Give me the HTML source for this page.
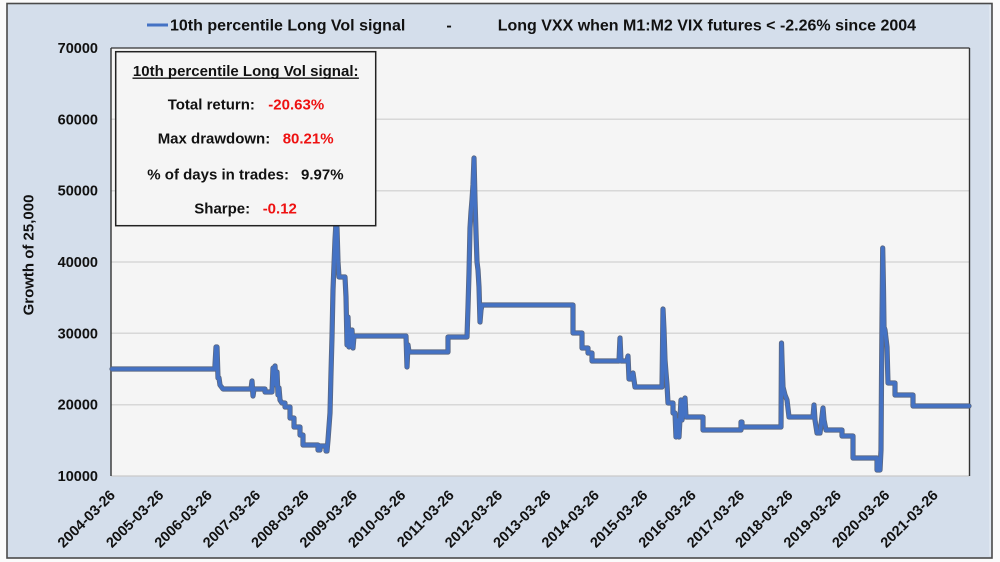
<!DOCTYPE html>
<html><head><meta charset="utf-8"><style>
html,body{margin:0;padding:0;background:#fbfbfb;}
svg{display:block;font-family:"Liberation Sans",Arial,sans-serif;font-weight:bold;}
</style></head><body>
<svg width="1000" height="562" viewBox="0 0 1000 562" xmlns="http://www.w3.org/2000/svg">
<defs>
<path id="s" d="M112,369 H215 V365 L216,347 L217,347 L218,378 L219,378 L220,385 L223,389 H251 L252,381 L253,396 L254,389 H265 V392 H272 L273,368 L274,375 L275,366 L276,385 L277,372 L278,395 L279,388 L280,400 L282,403 H285 V407 H290 V418 H294 V427 H300 V435 H303 V445 H318 V450 H320 V446 H326 V451 H327 L328,440 L330,413 L331,373 L332,337 L333,290 L335,240 L336,222 L337,228 L338,262 L339,277 H345 L346,297 L347,345 L348,317 L349,347 L350,330 L351,345 L352,330 L353,348 L354,336 H406 L407,367 L408,345 L409,352 H448 V337 H467 L468,307 L469,273 L470,228 L471,212 L472,200 L473,185 L474,158 L475,200 L476,233 L477,262 L478,270 L479,287 L480,322 L481,310 L482,305 H573 V333 H582 V348 H588 V353 H592 V361 H619 L620,338 L621,361 H627 L628,356 L629,379 H631 L633,373 L635,387 H662 L663,309 L664,330 L665,360 L666,373 L667,385 L668,403 H673 V413 H675 L676,437 L678,420 L679,437 L681,400 L682,420 L683,405 L685,398 L686,417 H703 V430 H741 V422 H742 V427 H781 L781.5,343 L782,360 L783,387 L785,395 L787,400 L789,417 H813 L814,405 L815,420 L817,433 H820 L821,425 L823,408 L824,420 L826,430 H842 V436 H853 V458 H877 V470 H880 L881,450 L881.5,380 L882,320 L882.7,248 L883.5,290 L884,327 L885,330 L887,347 L888,383 H895 V395 H913 V406 H969"/>
</defs>
<rect x="0" y="0" width="1000" height="562" fill="#fbfbfb"/>
<rect x="7" y="3.5" width="985" height="554.5" fill="#d4deeb" stroke="#4a4a4a" stroke-width="1.6"/>
<line x1="990" y1="5" x2="990" y2="556" stroke="#e8edf4" stroke-width="1"/>
<!-- legend/title -->
<line x1="147" y1="25" x2="168" y2="25" stroke="#4472c4" stroke-width="3"/>
<text x="170" y="30.7" font-size="16" fill="#111">10th percentile Long Vol signal</text>
<text x="449" y="30.7" font-size="16" fill="#111" text-anchor="middle">-</text>
<text x="497.7" y="30.7" font-size="16" fill="#111">Long VXX when M1:M2 VIX futures &lt; -2.26% since 2004</text>
<!-- plot area -->
<rect x="111" y="48" width="858.5" height="428" fill="#f5f5f5"/>
<g stroke="#d8d8d8" stroke-width="1.5">
<line x1="111" y1="119.3" x2="969.5" y2="119.3"/>
<line x1="111" y1="190.7" x2="969.5" y2="190.7"/>
<line x1="111" y1="262" x2="969.5" y2="262"/>
<line x1="111" y1="333.3" x2="969.5" y2="333.3"/>
<line x1="111" y1="404.7" x2="969.5" y2="404.7"/>
</g>
<line x1="111" y1="476" x2="969.5" y2="476" stroke="#c9c9c9" stroke-width="1.2"/>
<line x1="111" y1="48" x2="969.5" y2="48" stroke="#333" stroke-width="1.2"/>
<line x1="969.5" y1="48" x2="969.5" y2="476" stroke="#333" stroke-width="1.4"/>
<line x1="111" y1="48" x2="111" y2="476" stroke="#333" stroke-width="1.4"/>
<!-- y tick labels -->
<g font-size="14.5" fill="#111" text-anchor="end">
<text x="98" y="53">70000</text>
<text x="98" y="124.3">60000</text>
<text x="98" y="195.7">50000</text>
<text x="98" y="267">40000</text>
<text x="98" y="338.3">30000</text>
<text x="98" y="409.7">20000</text>
<text x="98" y="481">10000</text>
</g>
<text x="33.7" y="255" font-size="15" fill="#111" text-anchor="middle" transform="rotate(-90 33.7 255)">Growth of 25,000</text>
<!-- x tick labels -->
<g font-size="14.5" fill="#111" text-anchor="end">
<text transform="translate(116 496) rotate(-45)">2004-03-26</text>
<text transform="translate(164.4 496) rotate(-45)">2005-03-26</text>
<text transform="translate(212.8 496) rotate(-45)">2006-03-26</text>
<text transform="translate(261.2 496) rotate(-45)">2007-03-26</text>
<text transform="translate(309.6 496) rotate(-45)">2008-03-26</text>
<text transform="translate(358 496) rotate(-45)">2009-03-26</text>
<text transform="translate(406.4 496) rotate(-45)">2010-03-26</text>
<text transform="translate(454.8 496) rotate(-45)">2011-03-26</text>
<text transform="translate(503.2 496) rotate(-45)">2012-03-26</text>
<text transform="translate(551.6 496) rotate(-45)">2013-03-26</text>
<text transform="translate(600 496) rotate(-45)">2014-03-26</text>
<text transform="translate(648.4 496) rotate(-45)">2015-03-26</text>
<text transform="translate(696.8 496) rotate(-45)">2016-03-26</text>
<text transform="translate(745.2 496) rotate(-45)">2017-03-26</text>
<text transform="translate(793.6 496) rotate(-45)">2018-03-26</text>
<text transform="translate(842 496) rotate(-45)">2019-03-26</text>
<text transform="translate(890.4 496) rotate(-45)">2020-03-26</text>
<text transform="translate(938.8 496) rotate(-45)">2021-03-26</text>
</g>
<!-- series -->
<g fill="none" stroke-linejoin="round" stroke-linecap="round">
<use href="#s" stroke="#5a6781" stroke-width="5.2"/>
<use href="#s" stroke="#4472c4" stroke-width="3.6"/>
</g>
<!-- stats box -->
<rect x="115.7" y="51.7" width="260" height="174" fill="#f5f5f5" stroke="#222" stroke-width="1.5"/>
<g font-size="15" fill="#111">
<text x="245.7" y="76" text-anchor="middle">10th percentile Long Vol signal:</text>
<line x1="132.5" y1="78.2" x2="358.9" y2="78.2" stroke="#111" stroke-width="1.3"/>
<text x="167.7" y="109.6">Total return:</text>
<text x="268.3" y="109.6" fill="#ee1111">-20.63%</text>
<text x="157.7" y="143.6">Max drawdown:</text>
<text x="282.7" y="143.6" fill="#ee1111">80.21%</text>
<text x="147.3" y="179.3">% of days in trades:</text>
<text x="301" y="179.3">9.97%</text>
<text x="194.3" y="213.6">Sharpe:</text>
<text x="262.7" y="213.6" fill="#ee1111">-0.12</text>
</g>
</svg>
</body></html>
